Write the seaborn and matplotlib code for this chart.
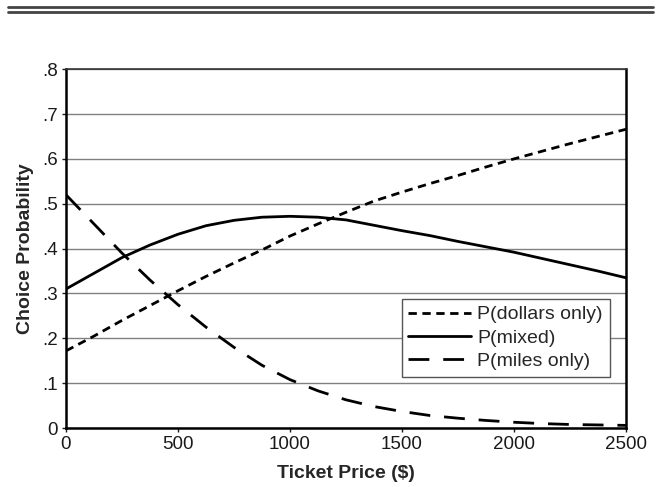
import matplotlib
matplotlib.use("Agg")
import matplotlib.pyplot as plt
import matplotlib.lines as mlines
import pandas as pd
import seaborn as sns

# ticket price grid ($) and choice probabilities
price = [0, 125, 250, 375, 500, 625, 750, 875, 1000, 1125, 1250,
         1375, 1500, 1625, 1750, 1875, 2000, 2125, 2250, 2375, 2500]
p_dollars = [.172, .205, .240, .273, .306, .338, .368, .397, .428, .455, .481,
             .506, .526, .545, .563, .582, .600, .617, .634, .650, .666]
p_mixed = [.310, .345, .380, .408, .432, .451, .463, .470, .472, .470, .464,
           .452, .440, .429, .416, .404, .392, .378, .364, .350, .335]
p_miles = [.520, .455, .390, .330, .275, .225, .180, .140, .108, .083, .063,
           .048, .037, .028, .022, .017, .013, .010, .008, .007, .006]

series_names = ["P(dollars only)", "P(mixed)", "P(miles only)"]
x_ticks = [0, 500, 1000, 1500, 2000, 2500]
y_ticks = [0, .1, .2, .3, .4, .5, .6, .7, .8]
y_tick_labels = ["0", ".1", ".2", ".3", ".4", ".5", ".6", ".7", ".8"]

sns.set_theme(style="white")
plt.rcParams["font.family"] = ["Liberation Sans", "DejaVu Sans"]

fig = plt.figure(figsize=(6.61, 4.87), dpi=100)
ax = fig.add_axes([0.0998, 0.121, 0.8472, 0.737])

styles = {
    "P(dollars only)": (0, (3, 2)),
    "P(mixed)": "-",
    "P(miles only)": (0, (7.5, 5)),
}
for name, vals in zip(series_names, [p_dollars, p_mixed, p_miles]):
    df = pd.DataFrame({"price": price, "prob": vals})
    sns.lineplot(data=df, x="price", y="prob", ax=ax, color="black",
                 lw=2.0, linestyle=styles[name], label=name, zorder=3)

ax.set_xlim(0, 2500)
ax.set_ylim(0, 0.8)
ax.set_xticks(x_ticks)
ax.set_xticklabels([str(t) for t in x_ticks])
ax.set_yticks(y_ticks)
ax.set_yticklabels(y_tick_labels)
ax.yaxis.grid(True, color="#808080", lw=1.0)
ax.xaxis.grid(False)
ax.tick_params(axis="both", labelsize=13.5, colors="#1a1a1a", length=3,
               width=1, direction="out", bottom=True, left=True, pad=3)

for side in ["left", "bottom", "right"]:
    ax.spines[side].set_color("black")
    ax.spines[side].set_linewidth(1.8)
ax.spines["top"].set_color("#333333")
ax.spines["top"].set_linewidth(1.2)

ax.set_xlabel("Ticket Price ($)", fontsize=14, fontweight="bold", labelpad=8)
ax.set_ylabel("Choice Probability", fontsize=14, fontweight="bold", labelpad=6)

leg = ax.legend(loc="lower right", bbox_to_anchor=(0.971, 0.142), fontsize=14,
                frameon=True, fancybox=False, framealpha=1, edgecolor="#555555",
                handlelength=3.2, handletextpad=0.35, borderpad=0.35,
                labelspacing=0.3, borderaxespad=0)
leg.get_frame().set_linewidth(1.0)
leg.set_zorder(5)

# double rule across the top of the page
for y in [0.986, 0.976]:
    fig.add_artist(mlines.Line2D([0.012, 0.988], [y, y], color="#444444", lw=2.0))

fig.savefig("out.png", dpi=100)
